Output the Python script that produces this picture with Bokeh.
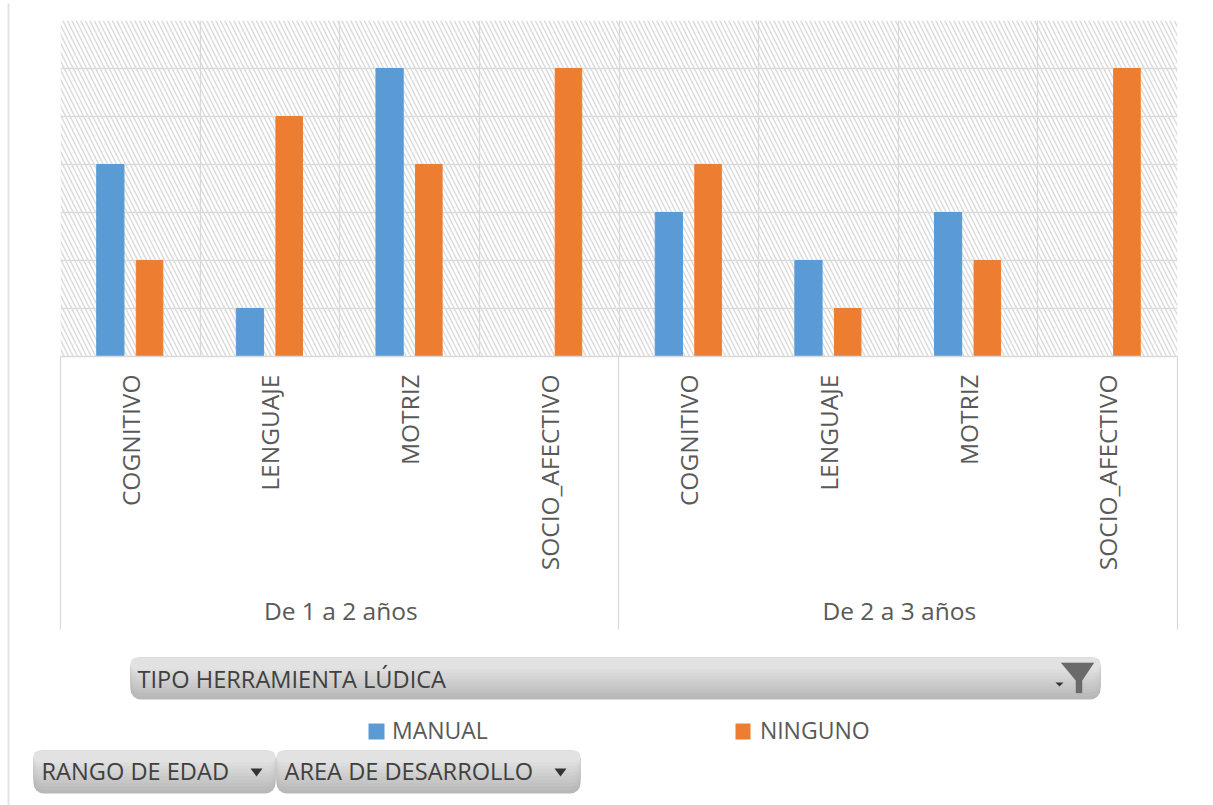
from bokeh.plotting import figure
from bokeh.models import (FactorRange, Range1d, FixedTicker, Grid, BoxAnnotation, Label, PolyAnnotation,
                          Legend, LegendItem, ColumnDataSource)
from bokeh.transform import dodge
from bokeh.embed import file_html
from bokeh.resources import INLINE
import math

groups = ["De 1 a 2 años", "De 2 a 3 años"]
areas = ["COGNITIVO", "LENGUAJE", "MOTRIZ", "SOCIO_AFECTIVO"]
manual = [4, 1, 6, 0, 3, 2, 3, 0]
ninguno = [2, 5, 4, 6, 4, 1, 2, 6]
legend_labels = ["MANUAL", "NINGUNO"]
field_title = "TIPO HERRAMIENTA LÚDICA"
axis_fields = ["RANGO DE EDAD", "AREA DE DESARROLLO"]

W, H = 1213, 805
L, R, T, B = 60, 1177, 20, 356   # plot frame in picture pixels
FONT = "Open Sans"
TXT = "#404040"
LBL = "#595959"
GRID = "#d9d9d9"
BLUE = "#5B9BD5"
ORANGE = "#ED7D31"

factors = [(g, a) for g in groups for a in areas]
src = ColumnDataSource(dict(x=factors, manual=manual, ninguno=ninguno))

p = figure(width=W, height=H, output_backend="svg", toolbar_location=None,
           x_range=FactorRange(*factors, factor_padding=0, group_padding=0, subgroup_padding=0, range_padding=0),
           y_range=Range1d(0, 7),
           min_border_left=L, min_border_right=W - R, min_border_top=T, min_border_bottom=H - B)
p.outline_line_color = None
p.background_fill_color = "white"

# hatched plot area
p.add_layout(BoxAnnotation(left=0, right=R - L, top=B - T, bottom=0,
                           left_units="screen", right_units="screen", top_units="screen", bottom_units="screen",
                           fill_alpha=0, line_alpha=0,
                           hatch_pattern="left_diagonal_line", hatch_color="#dcdcdc", hatch_alpha=1.0,
                           hatch_scale=9, hatch_weight=1.5, level="underlay"))

p.xgrid.visible = False
p.ygrid.ticker = FixedTicker(ticks=list(range(8)))
p.ygrid.grid_line_color = GRID
p.ygrid.grid_line_width = 1.3
p.add_layout(Grid(dimension=0, ticker=FixedTicker(ticks=list(range(9))),
                  grid_line_color=GRID, grid_line_width=1.3))

p.yaxis.visible = False
ax = p.xaxis[0]
ax.major_label_orientation = math.pi / 2
ax.major_label_text_font = FONT
ax.major_label_text_font_size = "24.5px"
ax.major_label_text_color = LBL
ax.group_text_color = None   # the group names are placed lower, on the overlay
ax.major_label_standoff = 12
ax.major_tick_line_color = None
ax.minor_tick_line_color = None
ax.separator_line_alpha = 0
ax.axis_line_color = GRID
ax.axis_line_width = 1.3

p.vbar(x=dodge("x", -0.143, range=p.x_range), top="manual", width=0.195, source=src, color=BLUE)
p.vbar(x=dodge("x", 0.138, range=p.x_range), top="ninguno", width=0.19, source=src, color=ORANGE)

# overlay with the pivot-chart chrome, in picture pixels
q = figure(width=W, height=H, output_backend="svg", toolbar_location=None,
           x_range=Range1d(0, W), y_range=Range1d(H, 0), x_axis_location=None, y_axis_location=None,
           min_border=0, styles={"position": "absolute", "left": "0px", "top": "0px"})
q.grid.visible = False
q.outline_line_color = None
q.background_fill_alpha = 0
q.border_fill_alpha = 0

k1 = q.vbar(x=[], top=[], width=1, color=BLUE)
k2 = q.vbar(x=[], top=[], width=1, color=ORANGE)
leg = Legend(items=[LegendItem(label=legend_labels[0], renderers=[k1]), LegendItem(label=legend_labels[1], renderers=[k2])],
             orientation="horizontal", location=(369, H - 746), background_fill_alpha=0, border_line_alpha=0,
             label_text_font=FONT, label_text_font_size="23px", label_text_color=LBL,
             glyph_width=15, glyph_height=15, label_standoff=8, spacing=249, margin=0, padding=0)
q.add_layout(leg, "center")

def box(x0, x1, y0, y1, color, radius=0):
    q.add_layout(BoxAnnotation(left=x0, right=x1, top=y0, bottom=y1, fill_color=color, fill_alpha=1,
                               line_alpha=0, border_radius=radius, level="overlay"))

def button(x0, x1, y0, y1):
    steps = 10
    for i in range(steps):
        t = i / (steps - 1)
        c = int(184 + (226 - 184) * t)
        box(x0, x1, y0, y1 - (y1 - y0 - 12) * t, f"#{c:02x}{c:02x}{c:02x}", 10)

def tri(cx, cy, w=12, h=8):
    q.add_layout(PolyAnnotation(xs=[cx - w / 2, cx + w / 2, cx], ys=[cy, cy, cy + h],
                                fill_color="#333333", fill_alpha=1, line_alpha=0, level="overlay"))

def label(x, y, t):
    q.add_layout(Label(x=x, y=y, text=t, text_font=FONT, text_font_size="23.6px", text_color=TXT,
                       text_baseline="middle", level="overlay"))

# left border line and group separators
box(7, 9, 3, 805, "#e3e3e3")
for gx in (L, 618, R):
    box(gx - 0.6, gx + 0.6, B, 629, GRID)

# group names under the rotated labels
for i, g in enumerate(groups):
    q.add_layout(Label(x=L + (R - L) * (i * 2 + 1) / 4 + 1, y=610, text=g, text_font=FONT, text_font_size="24.5px",
                       text_color=LBL, text_align="center", text_baseline="middle", level="overlay"))

# legend keys
box(368, 384, 723, 739, BLUE)
box(735, 750, 723, 739, ORANGE)

button(130, 1100, 657, 699)
button(33, 275, 750, 793)
button(276, 580, 750, 793)
label(137, 678, field_title)
label(41, 770, axis_fields[0])
label(284, 770, axis_fields[1])
tri(256, 768)
tri(560, 768)
tri(1059, 682, 8, 4)
q.add_layout(PolyAnnotation(xs=[1060, 1094, 1082, 1082, 1075, 1075], ys=[662, 662, 680, 693, 693, 680],
                            fill_color="#6a6a6a", fill_alpha=1, line_color="#f0f0f0", line_width=1, level="overlay"))

open("out.html", "w").write(file_html([p, q], INLINE))
